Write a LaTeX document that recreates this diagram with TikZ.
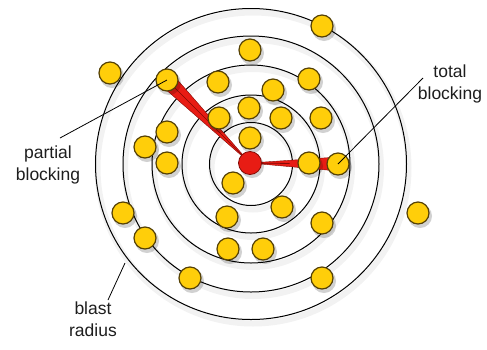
\documentclass[tikz,border=0pt]{standalone}
\usepackage{fontspec}
\setmainfont{Liberation Sans}
\usetikzlibrary{calc}
\definecolor{ballfill}{RGB}{255,206,10}
\definecolor{balledge}{RGB}{85,65,5}
\definecolor{redfill}{RGB}{232,28,20}
\definecolor{rededge}{RGB}{130,10,5}
\definecolor{txt}{RGB}{30,30,30}
\begin{document}
\begin{tikzpicture}[x=1pt,y=-1pt,
  ring/.style={draw=black,line width=1pt},
  ringshadow/.style={draw=black,line width=6pt,opacity=0.05},
  ball/.style={circle,fill=ballfill,draw=balledge,line width=1.2pt,minimum size=22pt,inner sep=0pt},
  ballshadow/.style={circle,fill=black,opacity=0.18,minimum size=24pt,inner sep=0pt},
  centerball/.style={circle,fill=redfill,draw=rededge,line width=0.8pt,minimum size=23pt,inner sep=0pt},
  wedge/.style={fill=redfill,draw=rededge,line width=0.4pt},
  leader/.style={draw=black,line width=0.8pt},
  lbl/.style={align=center,text=txt,font=\fontsize{17.5}{21.5}\selectfont,inner sep=0pt}]
\useasboundingbox (0,0) rectangle (487,349);
\fill[white] (0,0) rectangle (487,349);
\coordinate (c) at (251,164);
% ring shadows
\foreach \r in {41.5,69,99,128,155.5}{
  \draw[ringshadow] ($(c)+(2,4)$) circle (\r);
}
\foreach \r in {41.5,69,99,128,155.5}{
  \draw[ring] (c) circle (\r);
}
% ball positions
\foreach \n/\x/\y in {b1/322/26,b2/250/50,b3/110/73,b4/167/80,b5/218/82,b6/309/79,b7/273/90,b8/249/108,b9/219/118,b10/281/118,b11/321/118,b12/167/132,b13/250/138,b14/145/147,b15/167/163,b16/309/163,b17/338/164,b18/233/183,b19/282/207,b20/123/213,b21/227/217,b22/322/223,b23/145/238,b24/228/249,b25/263/249,b26/190/278,b27/322/278,b28/418/213}{
  \coordinate (\n) at (\x,\y);
}
% wedges
\fill[wedge] (250,163) -- ($(b4)!8pt!90:(250,163)$) -- ($(b4)!8pt!-90:(250,163)$) -- cycle;
\draw[rededge,line width=0.6pt] (250,163) -- (b4);
\fill[wedge] (250,163) -- ($(b17)!7pt!90:(250,163)$) -- ($(b17)!7pt!-90:(250,163)$) -- cycle;
\draw[rededge,line width=0.8pt] (250,163) -- ($(250,163)!0.45!(b17)$);
% ball shadows
\foreach \n in {b1,b2,b3,b4,b5,b6,b7,b8,b9,b10,b11,b12,b13,b14,b15,b16,b17,b18,b19,b20,b21,b22,b23,b24,b25,b26,b27,b28}{
  \node[ballshadow] at ($(\n)+(2,3)$) {};
}
\node[ballshadow] at (252,166) {};
% balls
\foreach \n in {b1,b2,b3,b4,b5,b6,b7,b8,b9,b10,b11,b12,b13,b14,b15,b16,b17,b18,b19,b20,b21,b22,b23,b24,b25,b26,b27,b28}{
  \node[ball] (n\n) at (\n) {};
}
\node[centerball] (red) at (250,163) {};
% labels
\node[lbl] (partial) at (48,165) {partial\\blocking};
\node[lbl] (blast) at (93,319) {blast\\radius};
\node[lbl] (total) at (450,84) {total\\blocking};
\coordinate (pstart) at (60,138);
\coordinate (bstart) at (108,300);
\coordinate (bend) at (125,263);
\coordinate (tstart) at (423,78);
\draw[leader] (pstart) -- (nb4.center);
\draw[leader] (bstart) -- (bend);
\draw[leader] (tstart) -- (nb17.center);
\end{tikzpicture}
\end{document}
